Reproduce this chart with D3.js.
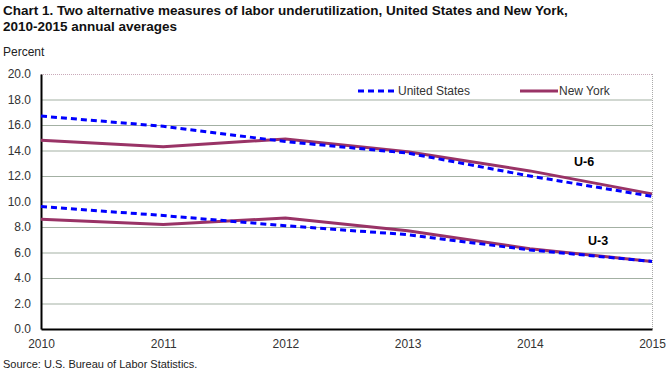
<!DOCTYPE html>
<html><head><meta charset="utf-8">
<script src="https://cdn.jsdelivr.net/npm/d3@7"></script>
<style>body{margin:0;background:#fff;font-family:"Liberation Sans",Arial,sans-serif;}</style>
</head><body>
<svg id="c" width="670" height="372"></svg>
<script>
const years = [2010, 2011, 2012, 2013, 2014, 2015];
const usU6 = [16.7, 15.9, 14.7, 13.8, 12.0, 10.4];
const nyU6 = [14.8, 14.3, 14.9, 13.9, 12.4, 10.6];
const usU3 = [9.6, 8.9, 8.1, 7.4, 6.2, 5.3];
const nyU3 = [8.6, 8.2, 8.7, 7.7, 6.3, 5.3];
const yTicks = [0, 2, 4, 6, 8, 10, 12, 14, 16, 18, 20];

const svg = d3.select("#c");
const L = 41, R = 652, T = 74, B = 329;
const x = d3.scaleLinear().domain([2010, 2015]).range([L, R]);
const y = d3.scaleLinear().domain([0, 20]).range([B, T]);

svg.append("text").attr("x", 3).attr("y", 15).attr("font-size", 13.5).attr("font-weight", "bold").attr("fill", "#111")
  .text("Chart 1. Two alternative measures of labor underutilization, United States and New York,");
svg.append("text").attr("x", 3).attr("y", 31).attr("font-size", 13.5).attr("font-weight", "bold").attr("fill", "#111")
  .text("2010-2015 annual averages");
svg.append("text").attr("x", 3).attr("y", 56).attr("font-size", 12).attr("fill", "#222").text("Percent");

// gridlines
svg.append("g").selectAll("line").data(yTicks.filter(d => d > 0)).join("line")
  .attr("x1", L).attr("x2", R).attr("y1", d => y(d) + 0.5).attr("y2", d => y(d) + 0.5)
  .attr("stroke", d => d === 20 ? "#c9a9b9" : "#a3b0a3").attr("stroke-width", 1)
  .attr("stroke-dasharray", d => d === 20 ? "1,1" : null);
// right border dotted
svg.append("line").attr("x1", R + 0.5).attr("x2", R + 0.5).attr("y1", T).attr("y2", B)
  .attr("stroke", "#aaa").attr("stroke-dasharray", "1,1");

// y axis
const ya = d3.axisLeft(y).tickValues(yTicks).tickSize(0).tickPadding(10).tickFormat(d3.format(".1f"));
const gy = svg.append("g").attr("transform", `translate(${L},0)`).call(ya);
gy.select(".domain").attr("stroke", "#000").attr("stroke-width", 2);
gy.selectAll("text").attr("font-size", 12).attr("fill", "#333").attr("font-family", "Liberation Sans, Arial, sans-serif");

// x axis
const xa = d3.axisBottom(x).tickValues(years).tickSize(0).tickPadding(10).tickFormat(d3.format("d"));
const gx = svg.append("g").attr("transform", `translate(0,${B})`).call(xa);
gx.select(".domain").attr("stroke", "#000").attr("stroke-width", 2);
gx.selectAll("text").attr("font-size", 12).attr("fill", "#333").attr("font-family", "Liberation Sans, Arial, sans-serif");

const line = d3.line().x((d, i) => x(years[i])).y(d => y(d));
const nyColor = "#993366", usColor = "#0000ff";
[[nyU6, false], [nyU3, false], [usU6, true], [usU3, true]].forEach(([vals, dashed]) => {
  svg.append("path").datum(vals).attr("d", line).attr("fill", "none")
    .attr("stroke", dashed ? usColor : nyColor).attr("stroke-width", 3)
    .attr("stroke-dasharray", dashed ? "6,4" : null);
});

// legend
svg.append("line").attr("x1", 358).attr("x2", 396).attr("y1", 91).attr("y2", 91)
  .attr("stroke", usColor).attr("stroke-width", 3).attr("stroke-dasharray", "6,4");
svg.append("text").attr("x", 398).attr("y", 95).attr("font-size", 12).attr("fill", "#333").text("United States");
svg.append("line").attr("x1", 520).attr("x2", 558).attr("y1", 91).attr("y2", 91)
  .attr("stroke", nyColor).attr("stroke-width", 3);
svg.append("text").attr("x", 559).attr("y", 95).attr("font-size", 12).attr("fill", "#333").text("New York");

svg.append("text").attr("x", 574).attr("y", 166).attr("font-size", 12.5).attr("font-weight", "bold").attr("fill", "#000").text("U-6");
svg.append("text").attr("x", 588).attr("y", 245).attr("font-size", 12.5).attr("font-weight", "bold").attr("fill", "#000").text("U-3");

svg.append("text").attr("x", 3).attr("y", 368).attr("font-size", 11).attr("fill", "#222").text("Source: U.S. Bureau of Labor Statistics.");
</script>
</body></html>
